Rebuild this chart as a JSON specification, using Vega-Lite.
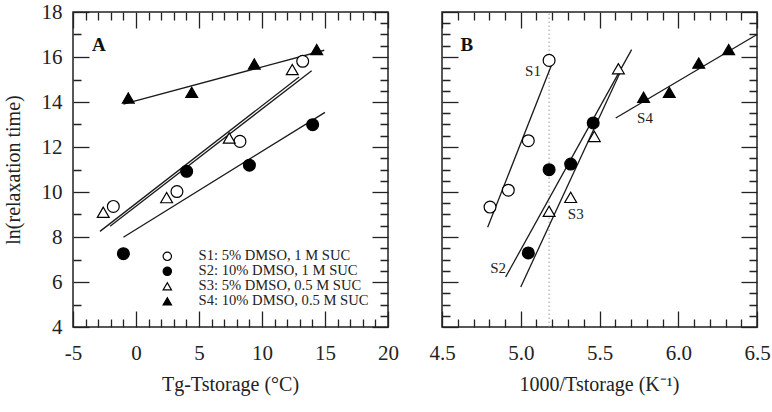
{
  "$schema": "https://vega.github.io/schema/vega-lite/v6.json",
  "background": "white",
  "padding": {"left": 2, "top": 0, "right": 2, "bottom": 2},
  "bounds": "flush",
  "spacing": 54,
  "resolve": {"scale": {"shape": "independent", "fill": "independent", "x": "independent"}},
  "config": {
    "font": "Liberation Serif",
    "view": {"stroke": "#222", "strokeWidth": 1.5},
    "axis": {
      "grid": false,
      "ticks": true,
      "domain": false,
      "offset": -16,
      "tickSize": 16,
      "labelFont": "Liberation Serif",
      "labelFontSize": 21,
      "labelColor": "#222",
      "labelFlush": false,
      "labelOverlap": false,
      "titleFont": "Liberation Serif",
      "titleFontSize": 20,
      "titleFontWeight": "normal",
      "titleColor": "#222"
    },
    "legend": {
      "labelFont": "Liberation Serif",
      "labelFontSize": 14.6,
      "labelColor": "#222",
      "symbolSize": 70,
      "symbolStrokeWidth": 1.2,
      "rowPadding": 0,
      "padding": 0,
      "labelOffset": 24,
      "labelLimit": 400
    }
  },
  "datasets": {
    "ptsA": [
      {"s": "S1: 5% DMSO, 1 M SUC", "x": -1.8, "y": 9.36},
      {"s": "S1: 5% DMSO, 1 M SUC", "x": 3.25, "y": 10.02},
      {"s": "S1: 5% DMSO, 1 M SUC", "x": 8.25, "y": 12.25},
      {"s": "S1: 5% DMSO, 1 M SUC", "x": 13.23, "y": 15.81},
      {"s": "S2: 10% DMSO, 1 M SUC", "x": -1.0, "y": 7.26},
      {"s": "S2: 10% DMSO, 1 M SUC", "x": 4.02, "y": 10.92},
      {"s": "S2: 10% DMSO, 1 M SUC", "x": 9.0, "y": 11.19},
      {"s": "S2: 10% DMSO, 1 M SUC", "x": 14.02, "y": 12.99},
      {"s": "S3: 5% DMSO, 0.5 M SUC", "x": -2.6, "y": 9.1},
      {"s": "S3: 5% DMSO, 0.5 M SUC", "x": 2.43, "y": 9.75},
      {"s": "S3: 5% DMSO, 0.5 M SUC", "x": 7.4, "y": 12.4},
      {"s": "S3: 5% DMSO, 0.5 M SUC", "x": 12.4, "y": 15.44},
      {"s": "S4: 10% DMSO, 0.5 M SUC", "x": -0.61, "y": 14.18},
      {"s": "S4: 10% DMSO, 0.5 M SUC", "x": 4.42, "y": 14.43},
      {"s": "S4: 10% DMSO, 0.5 M SUC", "x": 9.39, "y": 15.69},
      {"s": "S4: 10% DMSO, 0.5 M SUC", "x": 14.34, "y": 16.33}
    ],
    "linA": [
      {"id": "a", "x": -2.86, "y": 8.25},
      {"id": "a", "x": 12.94, "y": 15.11},
      {"id": "b", "x": -2.06, "y": 8.48},
      {"id": "b", "x": 13.94, "y": 15.39},
      {"id": "c", "x": -1.0, "y": 7.99},
      {"id": "c", "x": 15.0, "y": 13.54},
      {"id": "d", "x": -1.0, "y": 13.91},
      {"id": "d", "x": 14.94, "y": 16.3}
    ],
    "letA": [{"t": "A", "x": -2.94, "y": 16.53}],
    "ptsB": [
      {"s": "S1", "x": 4.805, "y": 9.33},
      {"s": "S1", "x": 4.921, "y": 10.08},
      {"s": "S1", "x": 5.048, "y": 12.28},
      {"s": "S1", "x": 5.18, "y": 15.85},
      {"s": "S2", "x": 5.048, "y": 7.29},
      {"s": "S2", "x": 5.18, "y": 10.99},
      {"s": "S2", "x": 5.317, "y": 11.24},
      {"s": "S2", "x": 5.46, "y": 13.07},
      {"s": "S3", "x": 5.18, "y": 9.14},
      {"s": "S3", "x": 5.317, "y": 9.76},
      {"s": "S3", "x": 5.467, "y": 12.47},
      {"s": "S3", "x": 5.62, "y": 15.48},
      {"s": "S4", "x": 5.78, "y": 14.21},
      {"s": "S4", "x": 5.943, "y": 14.43},
      {"s": "S4", "x": 6.13, "y": 15.73},
      {"s": "S4", "x": 6.32, "y": 16.33}
    ],
    "linB": [
      {"id": "S1", "x": 4.79, "y": 8.43},
      {"id": "S1", "x": 5.196, "y": 15.66},
      {"id": "S2", "x": 4.904, "y": 6.22},
      {"id": "S2", "x": 5.704, "y": 16.33},
      {"id": "S3", "x": 5.0, "y": 5.78},
      {"id": "S3", "x": 5.63, "y": 15.3},
      {"id": "S4", "x": 5.603, "y": 13.29},
      {"id": "S4", "x": 6.5, "y": 17.0}
    ],
    "labB": [
      {"t": "S1", "x": 5.078, "y": 15.38},
      {"t": "S2", "x": 4.856, "y": 6.62},
      {"t": "S3", "x": 5.349, "y": 9.02},
      {"t": "S4", "x": 5.789, "y": 13.29}
    ],
    "letB": [{"t": "B", "x": 4.657, "y": 16.55}],
    "ruleB": [{"x": 5.18}]
  },
  "hconcat": [
    {
      "width": 315,
      "height": 315,
      "title": {"text": "Tg-Tstorage (°C)", "orient": "bottom", "anchor": "middle", "font": "Liberation Serif", "fontSize": 20, "fontWeight": "normal", "color": "#222", "offset": 12},
      "resolve": {"axis": {"x": "independent", "y": "independent"}},
      "layer": [
        {
          "data": {"name": "linA"},
          "mark": {"type": "line", "color": "#1a1a1a", "strokeWidth": 1.3},
          "encoding": {
            "x": {
              "field": "x", "type": "quantitative",
              "scale": {"domain": [-5, 20], "nice": false, "zero": false},
              "axis": {
                "orient": "bottom",
                "values": [-5,-4,-3,-2,-1,0,1,2,3,4,5,6,7,8,9,10,11,12,13,14,15,16,17,18,19,20],
                "format": "d",
                "labelExpr": "abs(datum.value % 5) < 0.001 ? replace(datum.label, '\u2212', '-') : ''",
                "labelFont": {"condition": {"test": "true", "value": "Liberation Serif"}, "value": "Liberation Serif"},
                "labelFontSize": 21,
                "ticks": true,
                "tickColor": {"condition": {"test": "true", "value": "#222"}, "value": "#222"},
                "tickOpacity": {"condition": {"test": "true", "value": 1}, "value": 1},
                "tickWidth": {"condition": {"test": "true", "value": 1.3}, "value": 1.3},
                "tickDash": {"condition": {"test": "abs(datum.value % 5) < 0.001", "value": [20, 0]}, "value": [0, 8, 8, 40]},
                "offset": -16,
                "tickSize": 16,
                "domain": false,
                "labelPadding": 15,
                "title": null
              }
            },
            "y": {
              "field": "y", "type": "quantitative",
              "scale": {"domain": [4, 18], "nice": false, "zero": false},
              "axis": {
                "orient": "left",
                "values": [4,4.5,5,5.5,6,6.5,7,7.5,8,8.5,9,9.5,10,10.5,11,11.5,12,12.5,13,13.5,14,14.5,15,15.5,16,16.5,17,17.5,18],
                "format": "d",
                "labelExpr": "abs(datum.value % 2) < 0.001 ? datum.label : ''",
                "labelFont": {"condition": {"test": "true", "value": "Liberation Serif"}, "value": "Liberation Serif"},
                "labelFontSize": 21,
                "ticks": true,
                "tickColor": {"condition": {"test": "true", "value": "#222"}, "value": "#222"},
                "tickOpacity": {"condition": {"test": "true", "value": 1}, "value": 1},
                "tickWidth": {"condition": {"test": "true", "value": 1.3}, "value": 1.3},
                "tickDash": {"condition": {"test": "abs(datum.value % 2) < 0.001", "value": [20, 0]}, "value": [0, 8, 8, 40]},
                "offset": -16,
                "tickSize": 16,
                "domain": false,
                "labelPadding": 11,
                "title": "ln(relaxation time)",
                "titleFont": "Liberation Serif",
                "titleFontSize": 20,
                "titlePadding": 18
              }
            },
            "detail": {"field": "id"}
          }
        },
        {
          "data": {"name": "ptsA"},
          "mark": {"type": "point", "filled": true, "stroke": "black", "strokeWidth": 1.2, "size": 140, "opacity": 1},
          "encoding": {
            "x": {
              "field": "x", "type": "quantitative",
              "scale": {"domain": [-5, 20], "nice": false, "zero": false},
              "axis": {
                "orient": "top",
                "values": [-5,-4,-3,-2,-1,0,1,2,3,4,5,6,7,8,9,10,11,12,13,14,15,16,17,18,19,20],
                "labels": false,
                "ticks": true,
                "tickColor": {"condition": {"test": "true", "value": "#222"}, "value": "#222"},
                "tickOpacity": {"condition": {"test": "true", "value": 1}, "value": 1},
                "tickWidth": {"condition": {"test": "true", "value": 1.3}, "value": 1.3},
                "tickDash": {"condition": {"test": "abs(datum.value % 5) < 0.001", "value": [20, 0]}, "value": [0, 8, 8, 40]},
                "offset": -16,
                "tickSize": 16,
                "domain": false,
                "title": null
              }
            },
            "y": {
              "field": "y", "type": "quantitative",
              "scale": {"domain": [4, 18], "nice": false, "zero": false},
              "axis": {
                "orient": "right",
                "values": [4,4.5,5,5.5,6,6.5,7,7.5,8,8.5,9,9.5,10,10.5,11,11.5,12,12.5,13,13.5,14,14.5,15,15.5,16,16.5,17,17.5,18],
                "labels": false,
                "ticks": true,
                "tickColor": {"condition": {"test": "true", "value": "#222"}, "value": "#222"},
                "tickOpacity": {"condition": {"test": "true", "value": 1}, "value": 1},
                "tickWidth": {"condition": {"test": "true", "value": 1.3}, "value": 1.3},
                "tickDash": {"condition": {"test": "abs(datum.value % 2) < 0.001", "value": [20, 0]}, "value": [0, 8, 8, 40]},
                "offset": -16,
                "tickSize": 16,
                "domain": false,
                "title": null
              }
            },
            "shape": {
              "field": "s", "type": "nominal",
              "scale": {"domain": ["S1: 5% DMSO, 1 M SUC", "S2: 10% DMSO, 1 M SUC", "S3: 5% DMSO, 0.5 M SUC", "S4: 10% DMSO, 0.5 M SUC"], "range": ["circle", "circle", "triangle-up", "triangle-up"]},
              "legend": {"title": null, "orient": "bottom-right", "offset": 19}
            },
            "fill": {
              "field": "s", "type": "nominal",
              "scale": {"domain": ["S1: 5% DMSO, 1 M SUC", "S2: 10% DMSO, 1 M SUC", "S3: 5% DMSO, 0.5 M SUC", "S4: 10% DMSO, 0.5 M SUC"], "range": ["white", "black", "white", "black"]},
              "legend": {"title": null, "orient": "bottom-right", "offset": 19}
            }
          }
        },
        {
          "data": {"name": "letA"},
          "mark": {"type": "text", "fontWeight": "bold", "fontSize": 19, "font": "Liberation Serif", "color": "#111", "align": "center", "baseline": "middle"},
          "encoding": {
            "x": {"field": "x", "type": "quantitative", "scale": {"domain": [-5, 20], "nice": false, "zero": false}, "axis": null},
            "y": {"field": "y", "type": "quantitative", "scale": {"domain": [4, 18], "nice": false, "zero": false}, "axis": null},
            "text": {"field": "t"}
          }
        }
      ]
    },
    {
      "width": 315,
      "height": 315,
      "title": {"text": "1000/Tstorage (K⁻¹)", "orient": "bottom", "anchor": "middle", "font": "Liberation Serif", "fontSize": 20, "fontWeight": "normal", "color": "#222", "offset": 12},
      "resolve": {"axis": {"x": "independent", "y": "independent"}},
      "layer": [
        {
          "data": {"name": "ruleB"},
          "mark": {"type": "rule", "color": "#9a9a9a", "strokeDash": [1.5, 2.5], "strokeWidth": 1},
          "encoding": {
            "x": {"field": "x", "type": "quantitative", "scale": {"domain": [4.5, 6.5], "nice": false, "zero": false}, "axis": null},
            "y": {"datum": 4, "type": "quantitative", "scale": {"domain": [4, 18], "nice": false, "zero": false}, "axis": null},
            "y2": {"datum": 18}
          }
        },
        {
          "data": {"name": "linB"},
          "mark": {"type": "line", "color": "#1a1a1a", "strokeWidth": 1.3},
          "encoding": {
            "x": {
              "field": "x", "type": "quantitative",
              "scale": {"domain": [4.5, 6.5], "nice": false, "zero": false},
              "axis": {
                "orient": "bottom",
                "values": [4.5,4.6,4.7,4.8,4.9,5.0,5.1,5.2,5.3,5.4,5.5,5.6,5.7,5.8,5.9,6.0,6.1,6.2,6.3,6.4,6.5],
                "format": ".1f",
                "labelExpr": "abs(datum.value * 2 - round(datum.value * 2)) < 0.001 ? datum.label : ''",
                "labelFont": {"condition": {"test": "true", "value": "Liberation Serif"}, "value": "Liberation Serif"},
                "labelFontSize": 21,
                "ticks": true,
                "tickColor": {"condition": {"test": "true", "value": "#222"}, "value": "#222"},
                "tickOpacity": {"condition": {"test": "true", "value": 1}, "value": 1},
                "tickWidth": {"condition": {"test": "true", "value": 1.3}, "value": 1.3},
                "tickDash": {"condition": {"test": "abs(datum.value * 2 - round(datum.value * 2)) < 0.001", "value": [20, 0]}, "value": [0, 8, 8, 40]},
                "offset": -16,
                "tickSize": 16,
                "domain": false,
                "labelPadding": 15,
                "title": null
              }
            },
            "y": {
              "field": "y", "type": "quantitative",
              "scale": {"domain": [4, 18], "nice": false, "zero": false},
              "axis": {
                "orient": "left",
                "values": [4,4.5,5,5.5,6,6.5,7,7.5,8,8.5,9,9.5,10,10.5,11,11.5,12,12.5,13,13.5,14,14.5,15,15.5,16,16.5,17,17.5,18],
                "labels": false,
                "ticks": true,
                "tickColor": {"condition": {"test": "true", "value": "#222"}, "value": "#222"},
                "tickOpacity": {"condition": {"test": "true", "value": 1}, "value": 1},
                "tickWidth": {"condition": {"test": "true", "value": 1.3}, "value": 1.3},
                "tickDash": {"condition": {"test": "abs(datum.value % 2) < 0.001", "value": [20, 0]}, "value": [0, 8, 8, 40]},
                "offset": -16,
                "tickSize": 16,
                "domain": false,
                "title": null
              }
            },
            "detail": {"field": "id"}
          }
        },
        {
          "data": {"name": "ptsB"},
          "mark": {"type": "point", "filled": true, "stroke": "black", "strokeWidth": 1.2, "size": 140, "opacity": 1},
          "encoding": {
            "x": {
              "field": "x", "type": "quantitative",
              "scale": {"domain": [4.5, 6.5], "nice": false, "zero": false},
              "axis": {
                "orient": "top",
                "values": [4.5,4.6,4.7,4.8,4.9,5.0,5.1,5.2,5.3,5.4,5.5,5.6,5.7,5.8,5.9,6.0,6.1,6.2,6.3,6.4,6.5],
                "labels": false,
                "ticks": true,
                "tickColor": {"condition": {"test": "true", "value": "#222"}, "value": "#222"},
                "tickOpacity": {"condition": {"test": "true", "value": 1}, "value": 1},
                "tickWidth": {"condition": {"test": "true", "value": 1.3}, "value": 1.3},
                "tickDash": {"condition": {"test": "abs(datum.value * 2 - round(datum.value * 2)) < 0.001", "value": [20, 0]}, "value": [0, 8, 8, 40]},
                "offset": -16,
                "tickSize": 16,
                "domain": false,
                "title": null
              }
            },
            "y": {
              "field": "y", "type": "quantitative",
              "scale": {"domain": [4, 18], "nice": false, "zero": false},
              "axis": {
                "orient": "right",
                "values": [4,4.5,5,5.5,6,6.5,7,7.5,8,8.5,9,9.5,10,10.5,11,11.5,12,12.5,13,13.5,14,14.5,15,15.5,16,16.5,17,17.5,18],
                "labels": false,
                "ticks": true,
                "tickColor": {"condition": {"test": "true", "value": "#222"}, "value": "#222"},
                "tickOpacity": {"condition": {"test": "true", "value": 1}, "value": 1},
                "tickWidth": {"condition": {"test": "true", "value": 1.3}, "value": 1.3},
                "tickDash": {"condition": {"test": "abs(datum.value % 2) < 0.001", "value": [20, 0]}, "value": [0, 8, 8, 40]},
                "offset": -16,
                "tickSize": 16,
                "domain": false,
                "title": null
              }
            },
            "shape": {
              "field": "s", "type": "nominal",
              "scale": {"domain": ["S1", "S2", "S3", "S4"], "range": ["circle", "circle", "triangle-up", "triangle-up"]},
              "legend": null
            },
            "fill": {
              "field": "s", "type": "nominal",
              "scale": {"domain": ["S1", "S2", "S3", "S4"], "range": ["white", "black", "white", "black"]},
              "legend": null
            }
          }
        },
        {
          "data": {"name": "labB"},
          "mark": {"type": "text", "fontSize": 15, "font": "Liberation Serif", "color": "#222", "align": "center", "baseline": "middle"},
          "encoding": {
            "x": {"field": "x", "type": "quantitative", "scale": {"domain": [4.5, 6.5], "nice": false, "zero": false}, "axis": null},
            "y": {"field": "y", "type": "quantitative", "scale": {"domain": [4, 18], "nice": false, "zero": false}, "axis": null},
            "text": {"field": "t"}
          }
        },
        {
          "data": {"name": "letB"},
          "mark": {"type": "text", "fontWeight": "bold", "fontSize": 19, "font": "Liberation Serif", "color": "#111", "align": "center", "baseline": "middle"},
          "encoding": {
            "x": {"field": "x", "type": "quantitative", "scale": {"domain": [4.5, 6.5], "nice": false, "zero": false}, "axis": null},
            "y": {"field": "y", "type": "quantitative", "scale": {"domain": [4, 18], "nice": false, "zero": false}, "axis": null},
            "text": {"field": "t"}
          }
        }
      ]
    }
  ]
}
